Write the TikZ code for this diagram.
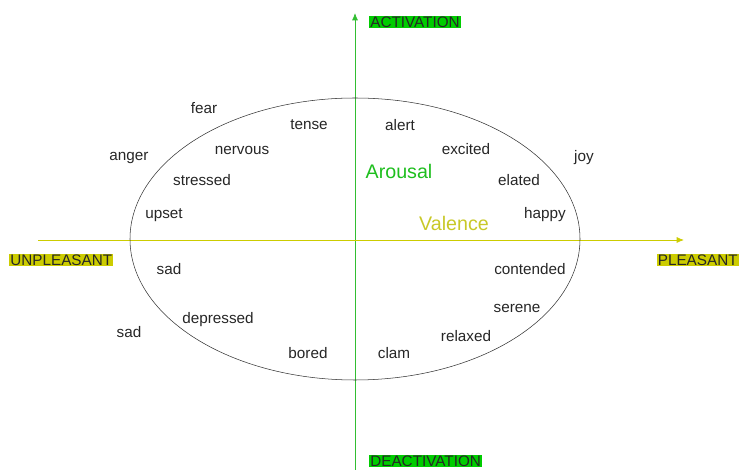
\documentclass[tikz,border=0pt]{standalone}
\usepackage{fontspec}
\setmainfont{Liberation Sans}
\usetikzlibrary{arrows.meta}
\definecolor{actgreen}{RGB}{0,204,0}
\definecolor{axisgreen}{RGB}{50,190,50}
\definecolor{valyellow}{RGB}{204,204,0}
\definecolor{arousalgreen}{RGB}{30,190,30}
\definecolor{valencetext}{RGB}{200,200,40}
\tikzset{
  word/.style={font=\fontsize{11.5}{13}\selectfont, text=black!85},
  pole/.style={font=\fontsize{11.5}{13}\selectfont, inner sep=0.8pt, text=black!85},
  dimlabel/.style={font=\fontsize{14.8}{17}\selectfont},
  axis/.style={-{Latex[length=5.5pt, width=4.5pt]}, semithick}
}
\begin{document}
\begin{tikzpicture}[x=0.02646cm, y=-0.02646cm]
  \useasboundingbox (0, 0) rectangle (740, 470);
  \coordinate (vbot) at (355, 470);
  \coordinate (vtop) at (355, 13);
  \coordinate (hleft) at (38, 240);
  \coordinate (hright) at (684, 240);
  \draw[axis, axisgreen] (vbot) -- (vtop);
  \draw[axis, valyellow] (hleft) -- (hright);
  \draw[black!80] (355, 239) ellipse (225 and 141);
  \node[pole, fill=actgreen, anchor=west] (act) at (369, 22) {ACTIVATION};
  \node[pole, fill=actgreen, anchor=west] (deact) at (369, 461) {DEACTIVATION};
  \node[pole, fill=valyellow, anchor=west] (unpl) at (9, 260) {UNPLEASANT};
  \node[pole, fill=valyellow, anchor=east] (pl) at (739, 260) {PLEASANT};
  \node[dimlabel, text=arousalgreen] (arousal) at (399, 171) {Arousal};
  \node[dimlabel, text=valencetext] (valence) at (454, 223) {Valence};
  \node[word] (fear) at (204, 108) {fear};
  \node[word] (tense) at (309, 125) {tense};
  \node[word] (alert) at (400, 125) {alert};
  \node[word] (excited) at (466, 149) {excited};
  \node[word] (joy) at (584, 158) {joy};
  \node[word] (anger) at (129, 158) {anger};
  \node[word] (nervous) at (242, 150) {nervous};
  \node[word] (stressed) at (202, 180) {stressed};
  \node[word] (elated) at (519, 180) {elated};
  \node[word] (upset) at (164, 215) {upset};
  \node[word] (happy) at (545, 215) {happy};
  \node[word] (sadin) at (169, 269) {sad};
  \node[word] (contended) at (530, 269) {contended};
  \node[word] (serene) at (517, 308) {serene};
  \node[word] (sadout) at (129, 332) {sad};
  \node[word] (depressed) at (218, 320) {depressed};
  \node[word] (relaxed) at (466, 336) {relaxed};
  \node[word] (bored) at (308, 353) {bored};
  \node[word] (clam) at (394, 353) {clam};
\end{tikzpicture}
\end{document}
